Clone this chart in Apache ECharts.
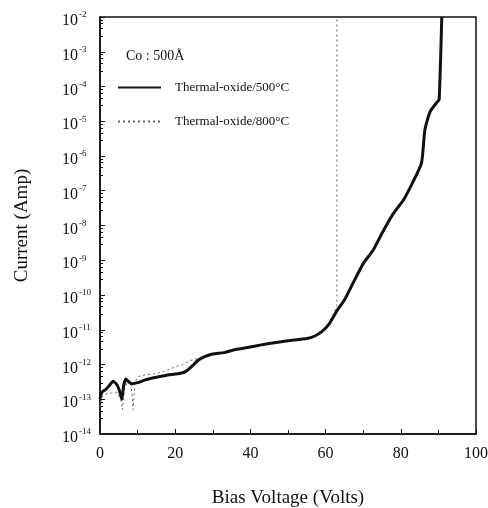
<!DOCTYPE html>
<html><head><meta charset="utf-8">
<script src="https://cdn.jsdelivr.net/npm/echarts@6/dist/echarts.min.js"></script>
<style>html,body{margin:0;padding:0;background:#fff}#c{width:488px;height:508px}</style>
</head><body><div id="c"></div>
<script>
const voltage500 = [0,0.5,1.5,2.5,3.5,4.5,5.3,5.8,6.3,6.9,7.6,8.5,10,12,15,18,20,22,23,24.5,26,28,30,33,36,40,45,50,55,57,59,61,63,65,67,70,72.7,75,78,80.7,83,85.5,86.4,87.8,89.7,90.2,90.9];
const current500 = [1.0e-13,1.6e-13,1.9e-13,2.5e-13,3.3e-13,2.6e-13,1.6e-13,1.0e-13,2.5e-13,3.8e-13,3.2e-13,2.8e-13,3.0e-13,3.6e-13,4.3e-13,5.0e-13,5.3e-13,5.8e-13,6.5e-13,9e-13,1.3e-12,1.7e-12,2.0e-12,2.2e-12,2.7e-12,3.2e-12,4.0e-12,4.8e-12,5.6e-12,6.5e-12,8.8e-12,1.5e-11,3.5e-11,7.2e-11,1.9e-10,8e-10,2e-9,6e-9,2.2e-8,5.4e-8,1.6e-7,6.2e-7,5.6e-6,1.9e-5,3.6e-5,4.2e-5,1e-2];
const voltage800 = [0,0.5,1.5,3,4.5,5.5,6.0,6.5,7.5,8.3,8.8,9.3,10,12,15,18,20,22,24,26,28,30,33,36,40,45,50,55,57,59,61,63,63.01];
const current800 = [6e-14,1.2e-13,1.4e-13,1.5e-13,1.6e-13,1.0e-13,5e-14,2e-13,3.5e-13,2.5e-13,5e-14,3e-13,4.5e-13,5e-13,5.5e-13,7e-13,8.5e-13,1.0e-12,1.3e-12,1.5e-12,1.8e-12,2.0e-12,2.2e-12,2.7e-12,3.2e-12,4.0e-12,4.8e-12,5.6e-12,6.5e-12,8.8e-12,1.5e-11,5e-11,1e-2];
const xTicks = [0,20,40,60,80,100];
const seriesNames = ['Thermal-oxide/500\u00B0C','Thermal-oxide/800\u00B0C'];
const noteText = 'Co : 500\u00C5';

const F = 'Liberation Serif';
const chart = echarts.init(document.getElementById('c'));
chart.setOption({
  animation:false,
  textStyle:{fontFamily:F,color:'#111'},
  title:{text:noteText,left:121,top:44,textStyle:{fontFamily:F,fontSize:14,fontWeight:'normal',color:'#111'}},
  legend:{orient:'vertical',left:112,top:76,itemWidth:43,itemHeight:14,itemGap:21,
    data:seriesNames,
    itemStyle:{opacity:0},
    textStyle:{fontFamily:F,fontSize:13,color:'#111',padding:[0,0,0,9]}},
  grid:{left:100,top:17,right:12,bottom:74,outerBoundsMode:'none',containLabel:false,
    show:true,borderColor:'#111',borderWidth:1.5,backgroundColor:'transparent'},
  xAxis:{type:'value',min:0,max:100,interval:20,
    name:'Bias Voltage (Volts)',nameLocation:'middle',nameGap:55,
    nameTextStyle:{fontFamily:F,fontSize:19,color:'#111'},
    axisLine:{lineStyle:{color:'#111',width:1.5}},
    axisTick:{inside:true,length:5,lineStyle:{color:'#111'}},
    minorTick:{show:true,splitNumber:2,length:4,lineStyle:{color:'#111'}},
    splitLine:{show:false},
    axisLabel:{fontFamily:F,fontSize:16,color:'#111',margin:12,
      formatter:v=>xTicks.includes(v)?String(v):''}},
  yAxis:{type:'log',logBase:10,min:1e-14,max:1e-2,interval:1,splitNumber:12,
    name:'Current (Amp)',nameLocation:'middle',nameGap:68,nameRotate:90,
    nameTextStyle:{fontFamily:F,fontSize:19,color:'#111'},
    axisLine:{lineStyle:{color:'#111',width:1.5}},
    axisTick:{inside:true,length:5,lineStyle:{color:'#111'}},
    minorTick:{show:true,splitNumber:5,length:3,lineStyle:{color:'#111'}},
    splitLine:{show:false},
    axisLabel:{align:'left',margin:38,
      formatter:v=>{const e=Math.round(Math.log10(v));return '{b|10}{s|'+(e<0?'-':'')+Math.abs(e)+'}';},
      rich:{b:{fontFamily:F,fontSize:16,color:'#111',padding:[8,0,0,0]},
            s:{fontFamily:F,fontSize:9,color:'#111',padding:[0,0,4,1]}}}},
  series:[
    {name:seriesNames[1],type:'line',data:voltage800.map((x,i)=>[x,current800[i]]),
     showSymbol:false,symbol:'none',z:2,
     lineStyle:{color:'#666',width:1,type:[2,3]},itemStyle:{color:'#666'}},
    {name:seriesNames[0],type:'line',data:voltage500.map((x,i)=>[x,current500[i]]),
     showSymbol:false,symbol:'none',smooth:0.2,z:3,
     lineStyle:{color:'#111',width:3},itemStyle:{color:'#111'}}
  ]
});
</script></body></html>
